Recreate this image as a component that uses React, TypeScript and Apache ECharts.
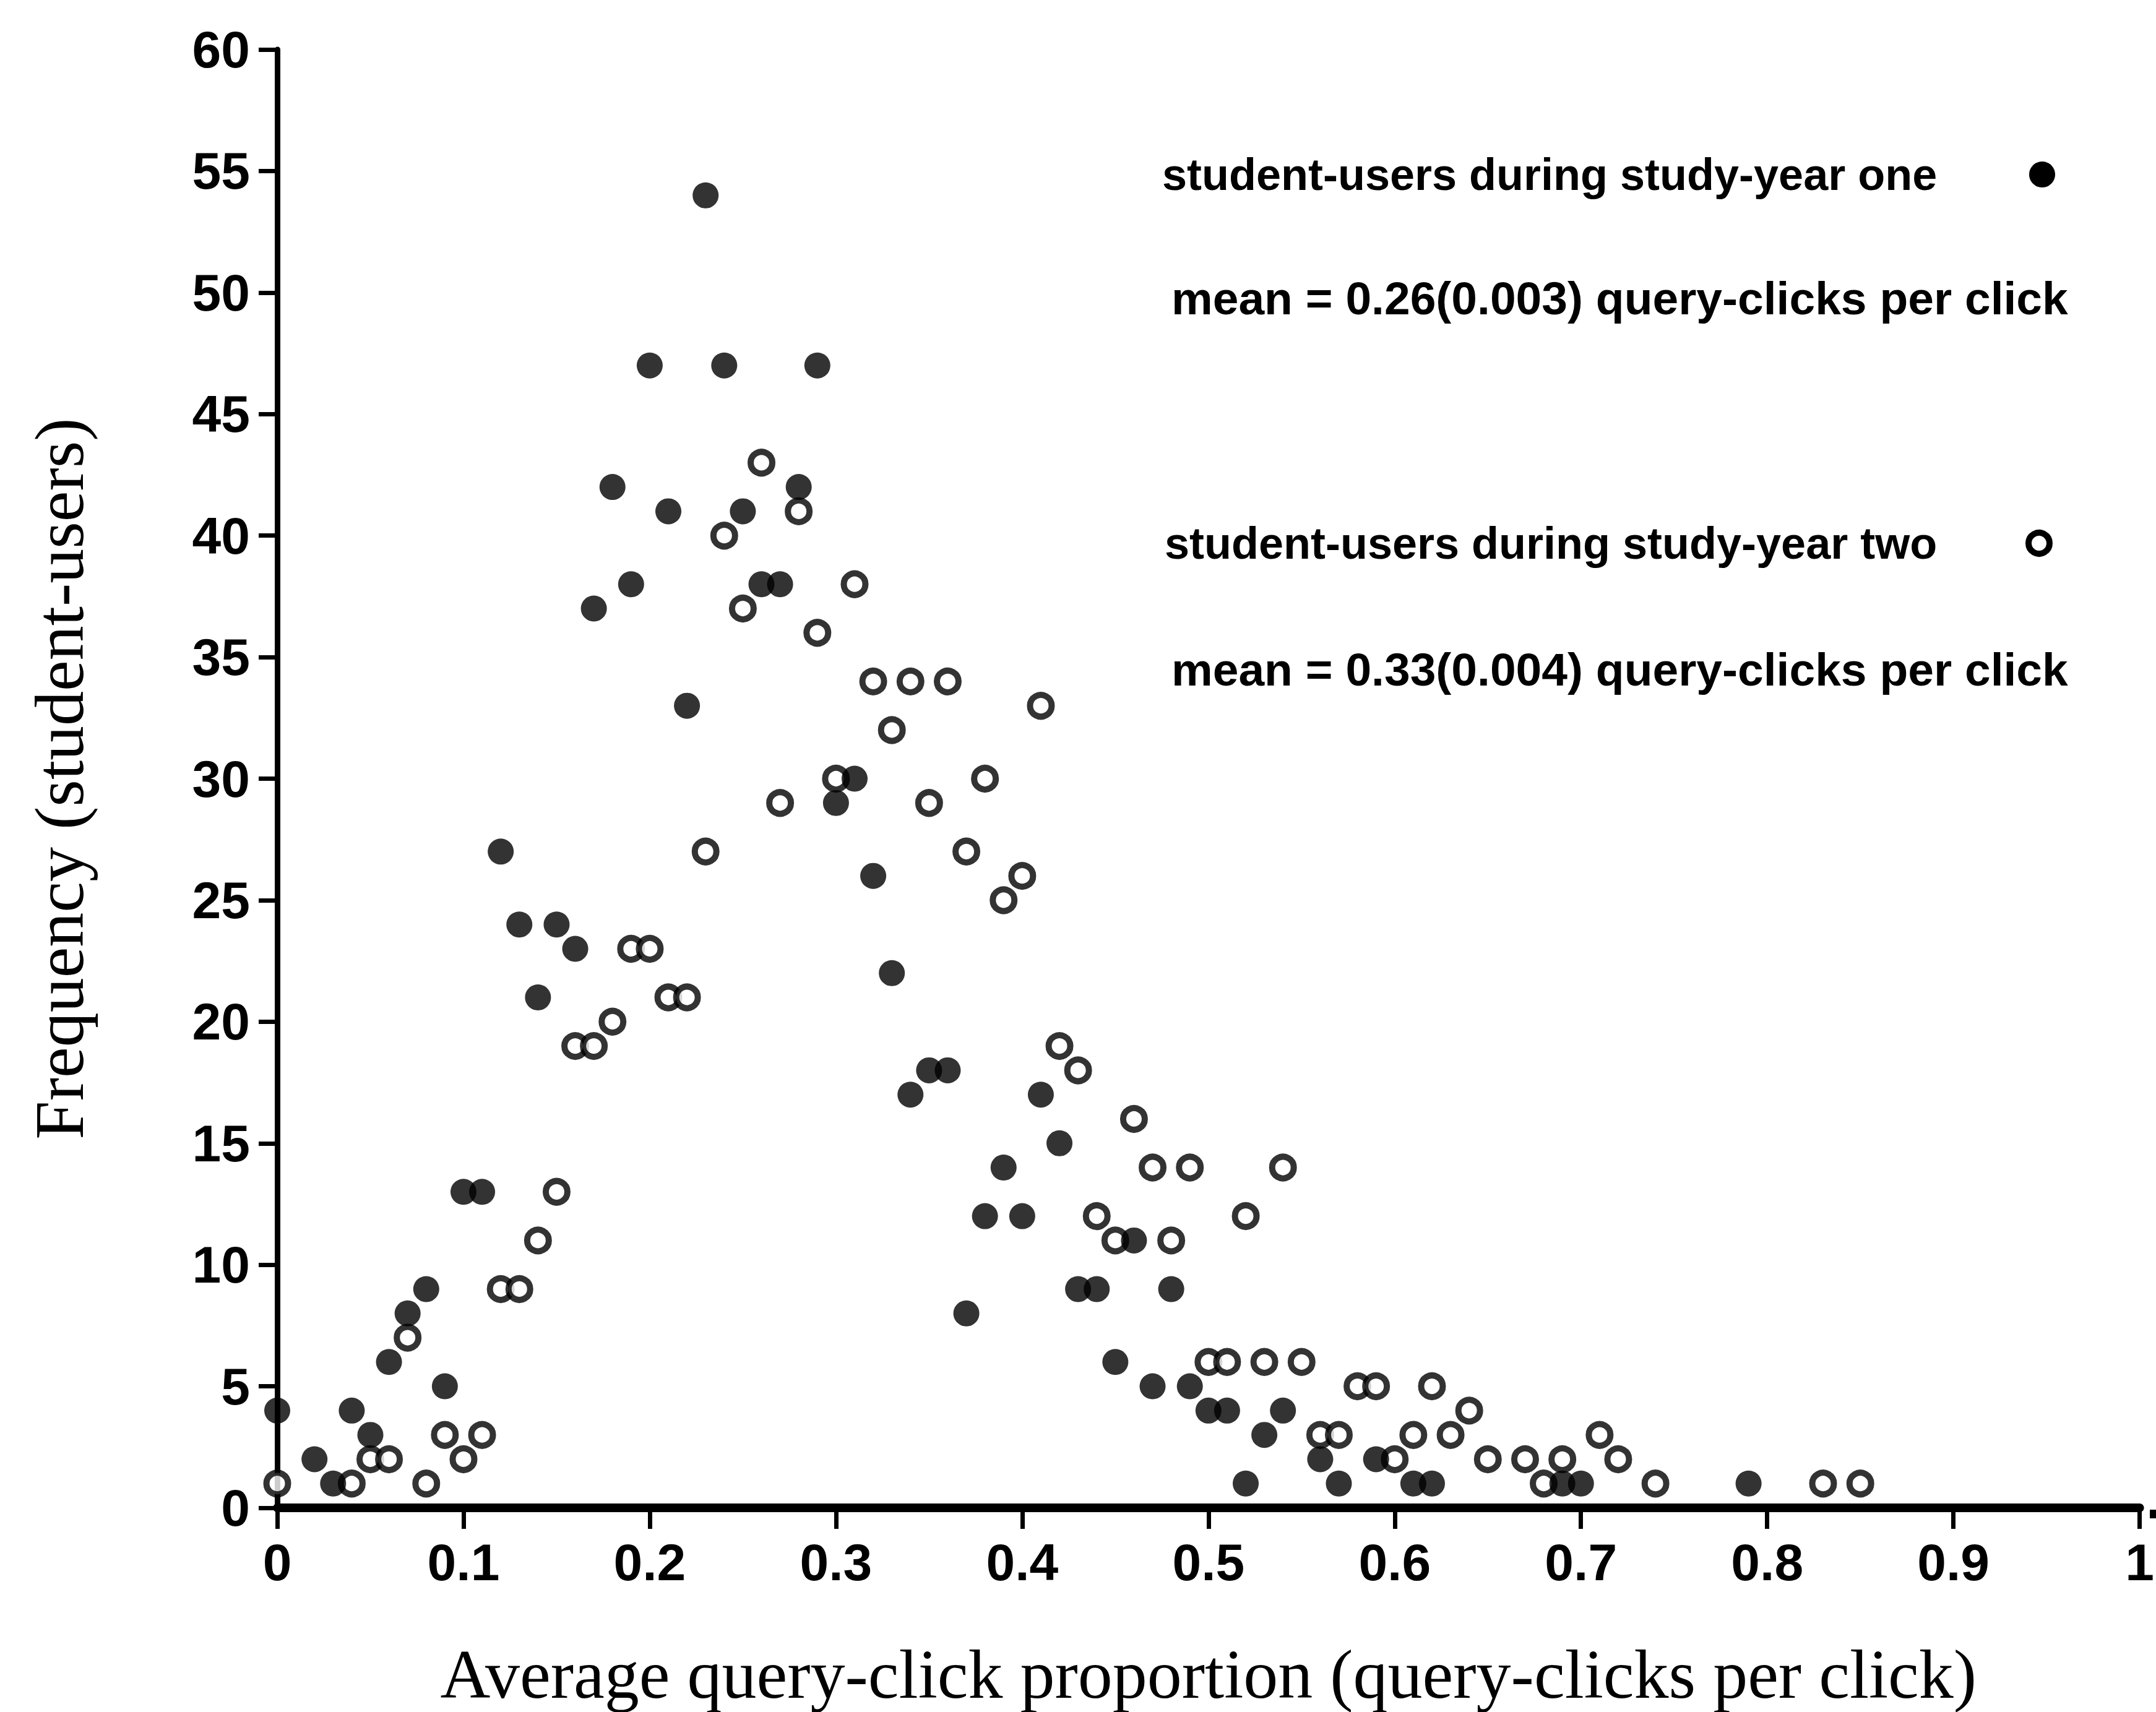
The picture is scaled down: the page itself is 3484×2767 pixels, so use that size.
import React, { useEffect, useRef } from "react";
import * as echarts from "echarts";

// Average query-click proportion per student-user bin, study-year one (filled dots)
const yearOneX = [
  0, 0.02, 0.03, 0.04, 0.05, 0.06, 0.07, 0.08, 0.09, 0.1, 0.11,
  0.12, 0.13, 0.14, 0.15, 0.16, 0.17, 0.18, 0.19, 0.2, 0.21, 0.22, 0.23, 0.24, 0.25,
  0.26, 0.27, 0.28, 0.29, 0.3, 0.31, 0.32, 0.33, 0.34, 0.35, 0.36, 0.37, 0.38, 0.39,
  0.4, 0.41, 0.42, 0.43, 0.44, 0.45, 0.46, 0.47, 0.48, 0.49, 0.5, 0.51, 0.52, 0.53, 0.54,
  0.56, 0.57, 0.59, 0.61, 0.62, 0.69, 0.7, 0.79,
];
const yearOneY = [
  4, 2, 1, 4, 3, 6, 8, 9, 5, 13, 13,
  27, 24, 21, 24, 23, 37, 42, 38, 47, 41, 33, 54, 47, 41,
  38, 38, 42, 47, 29, 30, 26, 22, 17, 18, 18, 8, 12, 14,
  12, 17, 15, 9, 9, 6, 11, 5, 9, 5, 4, 4, 1, 3, 4,
  2, 1, 2, 1, 1, 1, 1, 1,
];

// Study-year two (open circles)
const yearTwoX = [
  0, 0.04, 0.05, 0.06, 0.07, 0.08, 0.09, 0.1, 0.11,
  0.12, 0.13, 0.14, 0.15, 0.16, 0.17, 0.18, 0.19, 0.2, 0.21, 0.22, 0.23, 0.24, 0.25,
  0.26, 0.27, 0.28, 0.29, 0.3, 0.31, 0.32, 0.33, 0.34, 0.35, 0.36, 0.37, 0.38, 0.39,
  0.4, 0.41, 0.42, 0.43, 0.44, 0.45, 0.46, 0.47, 0.48, 0.49, 0.5, 0.51, 0.52, 0.53, 0.54, 0.55,
  0.56, 0.57, 0.58, 0.59, 0.6, 0.61, 0.62, 0.63, 0.64, 0.65,
  0.67, 0.68, 0.69, 0.71, 0.72, 0.74, 0.83, 0.85,
];
const yearTwoY = [
  1, 1, 2, 2, 7, 1, 3, 2, 3,
  9, 9, 11, 13, 19, 19, 20, 23, 23, 21, 21, 27, 40, 37,
  43, 29, 41, 36, 30, 38, 34, 32, 34, 29, 34, 27, 30, 25,
  26, 33, 19, 18, 12, 11, 16, 14, 11, 14, 6, 6, 12, 6, 14, 6,
  3, 3, 5, 5, 2, 3, 5, 3, 4, 2,
  2, 1, 2, 3, 2, 1, 1, 1,
];

const seriesNames = [
  "student-users during study-year one",
  "student-users during study-year two",
];
const meanLabels = [
  "mean = 0.26(0.003) query-clicks per click",
  "mean = 0.33(0.004) query-clicks per click",
];
const xAxisTitle = "Average query-click proportion (query-clicks per click)";
const yAxisTitle = "Frequency (student-users)";

const sansFamily = "'Liberation Sans', Arial, Helvetica, sans-serif";
const serif = "'Liberation Serif', 'Times New Roman', serif";

function pairs(xs: number[], ys: number[]) {
  return xs.map((x, i) => [x, ys[i]]);
}

export default function App() {
  const ref = useRef<HTMLDivElement>(null);

  useEffect(() => {
    if (!ref.current) return;
    const chart = echarts.init(ref.current, null, { renderer: "svg" });

    const legendText = (text: string, x: number, y: number, size: number) => ({
      type: "text",
      x,
      y,
      style: {
        text,
        fontFamily: sansFamily,
        fontWeight: "bold",
        fontSize: size,
        fill: "#000",
        align: "left",
        verticalAlign: "middle",
      },
    });

    chart.setOption({
      animation: false,
      backgroundColor: "#fff",
      grid: { left: 448, right: 10, top: 80, bottom: 320, containLabel: false },
      xAxis: {
        type: "value",
        min: 0,
        max: 1,
        interval: 0.1,
        name: xAxisTitle,
        nameLocation: "middle",
        nameGap: 213,
        nameMoveOverlap: false,
        nameTextStyle: { fontFamily: serif, fontSize: 112, color: "#000" },
        axisLine: { show: true, onZero: false, lineStyle: { color: "#000", width: 14 } },
        axisTick: { show: true, length: 34, lineStyle: { color: "#000", width: 7 } },
        axisLabel: {
          fontFamily: sansFamily,
          fontWeight: "bold",
          color: "#000",
          fontSize: 84,
          margin: 46,
          formatter: (v: number) => (v === 0 ? "0" : v === 1 ? "1" : v.toFixed(1)),
        },
        splitLine: { show: false },
      },
      yAxis: {
        type: "value",
        min: 0,
        max: 60,
        interval: 5,
        name: yAxisTitle,
        nameLocation: "middle",
        nameGap: 296,
        nameTextStyle: { fontFamily: serif, fontSize: 112, color: "#000" },
        axisLine: { show: true, lineStyle: { color: "#000", width: 9 } },
        axisTick: { show: true, length: 30, lineStyle: { color: "#000", width: 7 } },
        axisLabel: {
          fontFamily: sansFamily,
          fontWeight: "bold",
          color: "#000",
          fontSize: 84,
          margin: 44,
        },
        splitLine: { show: false },
      },
      series: [
        {
          type: "scatter",
          name: seriesNames[1],
          data: pairs(yearTwoX, yearTwoY),
          symbol: "circle",
          symbolSize: 35,
          itemStyle: { color: "#fff", borderColor: "#000", borderWidth: 10 },
          z: 2,
        },
        {
          type: "scatter",
          name: seriesNames[0],
          data: pairs(yearOneX, yearOneY),
          symbol: "circle",
          symbolSize: 42,
          itemStyle: { color: "#000" },
          z: 3,
        },
      ],
      graphic: [
        legendText(seriesNames[0], 1878, 282, 72),
        legendText(meanLabels[0], 1893, 482, 75),
        legendText(seriesNames[1], 1882, 878, 72),
        legendText(meanLabels[1], 1893, 1082, 75),
        { type: "circle", shape: { cx: 3300, cy: 282, r: 21 }, style: { fill: "#000" } },
        {
          type: "circle",
          shape: { cx: 3295, cy: 878, r: 17 },
          style: { fill: "#fff", stroke: "#000", lineWidth: 10 },
        },
        // axis baseline runs on to the right edge of the figure
        {
          type: "line",
          shape: { x1: 3474, y1: 2447, x2: 3484, y2: 2447 },
          style: { stroke: "#000", lineWidth: 14 },
        },
      ],
    });

    return () => chart.dispose();
  }, []);

  return (
    <div
      ref={ref}
      style={{ position: "fixed", left: 0, top: 0, width: 3484, height: 2767, background: "#fff" }}
    />
  );
}
